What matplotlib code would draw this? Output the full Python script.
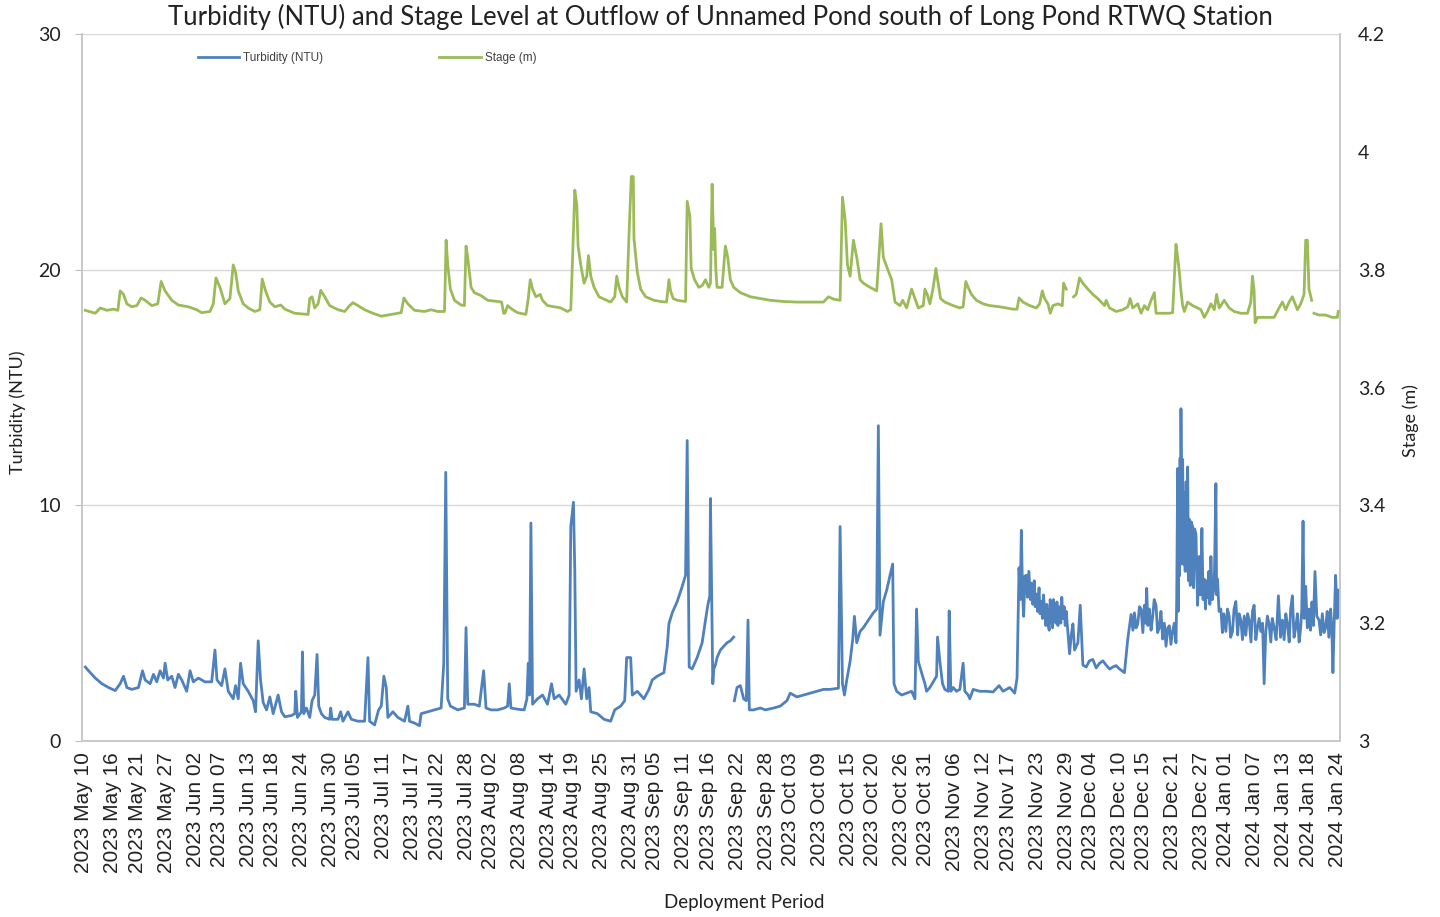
import numpy as np
import pandas as pd
import matplotlib
matplotlib.use("Agg")
import matplotlib.pyplot as plt

nan = float("nan")
START = "2023-05-10"

# ---- Turbidity (NTU): days since 2023-05-10 ----
turb_day = [
    0.28, 0.96, 2.34, 3.71, 5.09, 6.46, 7.49, 8.18, 8.87, 9.90, 11.27, 12.10, 12.65, 13.68,
    14.37, 15.05, 15.74, 16.43, 16.77, 17.32, 18.15, 18.83, 19.52, 20.21, 21.24, 21.93,
    22.61, 23.65, 25.02, 26.40, 27.08, 27.50, 28.46, 29.14, 29.83, 30.86, 31.34, 31.89,
    32.37, 32.92, 33.95, 34.99, 35.47, 36.02, 36.50, 37.05, 37.74, 38.42, 39.11, 40.14,
    40.83, 41.51, 42.89, 43.58, 43.78, 44.13, 44.95, 45.16, 45.43, 45.98, 46.67, 47.15,
    47.70, 48.18, 48.53, 49.08, 49.76, 50.79, 51.00, 51.27, 52.51, 53.06, 53.54, 54.57,
    55.26, 56.64, 58.01, 58.70, 59.04, 60.07, 60.90, 61.45, 61.99, 62.48, 62.82, 63.85,
    64.88, 66.26, 66.95, 67.29, 68.32, 69.35, 69.69, 71.07, 72.44, 73.82, 74.37, 74.78,
    75.19, 75.74, 77.25, 78.63, 78.97, 79.32, 80.69, 81.72, 82.61, 83.10, 84.13, 85.50,
    86.88, 87.56, 87.91, 88.25, 89.63, 91.00, 91.55, 91.83, 92.10, 92.38, 92.72, 93.75,
    94.78, 95.81, 96.64, 97.19, 98.22, 99.59, 100.28, 100.62, 101.17, 101.45, 101.72,
    102.34, 102.82, 103.37, 103.92, 104.40, 104.75, 106.12, 107.50, 108.87, 109.70,
    110.93, 111.76, 112.17, 113.00, 113.34, 114.37, 115.74, 116.77, 117.46, 118.49,
    119.87, 120.56, 120.90, 121.59, 122.62, 123.65, 124.34, 124.68, 125.09, 125.71,
    126.74, 127.77, 128.46, 128.94, 129.35, 129.49, 129.97, 130.17, 130.51, 130.85,
    131.54, 132.23, 132.92, 133.60, 134.29, 134.36, 134.43, 134.98, 135.67, 136.35,
    136.90, 137.25, 137.52, 138.41, 139.79, 140.82, 142.54, 143.91, 145.29, 145.97,
    147.35, 148.72, 150.10, 151.47, 152.85, 154.22, 155.94, 156.28, 156.77, 157.18,
    157.66, 158.35, 158.90, 159.24, 159.72, 160.41, 161.10, 162.13, 163.16, 163.85,
    164.19, 164.53, 165.22, 165.91, 166.60, 167.15, 167.42, 167.97, 169.00, 170.03,
    171.06, 171.75, 172.09, 172.44, 173.12, 173.81, 174.15, 174.84, 175.53, 176.22,
    176.42, 176.90, 177.45, 177.93, 178.62, 178.83, 179.17, 179.65, 180.34, 181.03,
    181.71, 182.06, 182.75, 183.09, 183.78, 185.15, 186.53, 187.90, 189.14, 189.96,
    191.34, 192.37, 192.85, 193.26, 193.50, 193.74, 194.00, 194.22, 194.50, 194.77,
    195.00, 195.30, 195.60, 195.80, 196.10, 196.40, 196.60, 196.84, 197.10, 197.40,
    197.60, 197.87, 198.10, 198.30, 198.55, 198.80, 199.00, 199.24, 199.50, 199.70,
    199.93, 200.20, 200.40, 200.61, 200.90, 201.10, 201.30, 201.60, 201.90, 202.10,
    202.33, 202.60, 202.80, 203.02, 203.40, 203.71, 204.05, 204.40, 204.74, 205.43,
    205.91, 206.46, 207.15, 207.80, 208.52, 209.20, 209.90, 210.60, 211.27, 212.00,
    212.65, 213.30, 214.02, 215.05, 215.74, 216.42, 216.80, 217.11, 217.45, 217.80,
    218.15, 218.49, 218.85, 219.17, 219.40, 219.65, 219.90, 220.20, 220.55, 220.89,
    221.20, 221.58, 221.90, 222.26, 222.60, 222.95, 223.30, 223.64, 224.00, 224.33,
    224.65, 225.01, 225.35, 225.70, 225.85, 226.05, 226.15, 226.25, 226.39, 226.55,
    226.65, 226.73, 226.90, 227.08, 227.25, 227.42, 227.60, 227.80, 228.00, 228.11,
    228.30, 228.45, 228.65, 228.85, 229.14, 229.35, 229.55, 229.83, 230.17, 230.51,
    230.75, 231.06, 231.30, 231.54, 231.80, 232.00, 232.23, 232.50, 232.70, 232.92,
    233.20, 233.61, 233.95, 234.10, 234.29, 234.60, 234.98, 235.30, 235.60, 236.01,
    236.35, 236.70, 237.00, 237.39, 237.70, 238.07, 238.45, 238.75, 239.10, 239.45,
    239.80, 240.14, 240.50, 240.82, 241.20, 241.50, 241.85, 242.20, 242.54, 242.90,
    243.23, 243.60, 243.92, 244.26, 244.60, 244.95, 245.30, 245.60, 245.98, 246.40,
    246.87, 247.30, 247.70, 248.05, 248.40, 248.73, 249.10, 249.40, 249.76, 250.10,
    250.45, 250.80, 251.15, 251.48, 251.70, 251.96, 252.20, 252.51, 252.85, 253.19,
    253.50, 253.80, 254.10, 254.43, 254.80, 255.26, 255.60, 255.95, 256.30, 256.63,
    256.95, 257.30, 257.66, 257.90, 258.14, 258.40, 258.69, 259.00, 259.24,
]
turb_val = [
    3.14, 2.98, 2.67, 2.43, 2.27, 2.14, 2.43, 2.75, 2.27, 2.19, 2.27, 2.98, 2.59, 2.43,
    2.83, 2.51, 2.98, 2.67, 3.30, 2.59, 2.75, 2.27, 2.83, 2.59, 2.11, 2.98,
    2.51, 2.67, 2.51, 2.51, 3.86, 2.59, 2.35, 3.06, 2.11, 1.79, 2.35, 1.79,
    3.30, 2.43, 2.11, 1.71, 1.24, 4.25, 2.59, 1.63, 1.32, 1.87, 1.16, 1.95,
    1.24, 1.03, 1.08, 1.16, 2.11, 1.00, 1.24, 3.78, 1.16, 1.40, 1.00, 1.71,
    1.95, 3.67, 1.48, 1.16, 1.00, 0.92, 1.40, 0.92, 0.92, 1.24, 0.84, 1.24,
    0.92, 0.84, 0.84, 3.54, 0.84, 0.68, 1.32, 1.48, 2.75, 2.27, 1.00, 1.24,
    1.00, 0.84, 1.48, 0.84, 0.76, 0.65, 1.16, 1.24, 1.32, 1.40, 3.30, 11.40,
    1.79, 1.48, 1.32, 1.40, 4.81, 1.56, 1.56, 1.48, 2.98, 1.40, 1.32, 1.32,
    1.40, 1.48, 2.43, 1.40, 1.35, 1.32, 1.79, 3.30, 1.95, 9.25, 1.56, 1.79,
    1.95, 1.56, 2.43, 1.79, 1.95, 1.56, 1.95, 9.10, 10.13, 7.19, 2.11,
    2.59, 1.79, 3.06, 1.79, 2.27, 1.24, 1.16, 0.92, 0.84, 1.32,
    1.48, 1.71, 3.54, 3.54, 1.95, 2.11, 1.79, 2.19, 2.59, 2.75,
    2.90, 4.02, 4.97, 5.44, 5.92, 6.56, 7.03, 12.75, 3.14, 3.06,
    3.54, 4.17, 5.13, 5.76, 6.16, 10.29, 2.43, 3.06, 3.22, 3.54,
    3.86, 4.02, 4.17, 4.25, 4.41, nan, 1.71, 2.27, 2.35, 1.79,
    1.71, 5.13, 1.32, 1.32, 1.40, 1.32, 1.40, 1.48, 1.71, 2.03,
    1.87, 1.95, 2.03, 2.11, 2.19, 2.19, 2.24, 9.10, 2.43, 1.95,
    2.59, 3.38, 4.33, 5.29, 4.17, 4.65, 4.81, 5.13, 5.44, 5.60,
    13.38, 4.49, 5.92, 6.40, 7.03, 7.51, 2.43, 2.11, 1.95, 2.03,
    2.11, 1.79, 5.60, 3.38, 2.90, 2.43, 2.11, 2.27, 2.51, 2.75,
    4.41, 3.38, 2.43, 2.19, 2.11, 5.52, 2.11, 2.27, 2.11, 2.19,
    3.30, 2.11, 1.95, 1.79, 2.19, 2.11, 2.11, 2.08, 2.35, 2.11,
    2.27, 2.03, 2.67, 7.35, 6.00, 8.94, 6.20, 5.29, 7.00, 7.03,
    6.10, 7.20, 6.00, 6.70, 5.80, 6.80, 5.70, 6.24, 5.50, 6.50,
    5.40, 5.92, 5.20, 6.20, 5.60, 4.90, 5.80, 4.97, 4.70, 6.00,
    5.50, 4.80, 6.00, 5.40, 5.00, 5.90, 4.90, 5.70, 5.00, 6.10,
    5.20, 5.70, 4.90, 5.50, 4.50, 3.70, 4.50, 4.97, 3.86, 4.17,
    5.76, 3.22, 3.14, 3.40, 3.46, 3.10, 3.30, 3.40, 3.22, 3.05,
    3.14, 3.20, 3.06, 2.90, 4.33, 5.37, 4.70, 5.44, 4.80, 4.97,
    5.70, 5.60, 4.60, 5.76, 5.00, 6.48, 4.90, 5.60, 4.70, 5.29,
    6.00, 5.76, 4.60, 4.81, 5.50, 4.33, 5.00, 4.02, 4.80, 4.89,
    4.10, 4.65, 5.00, 4.17, 6.00, 11.56, 5.50, 10.84, 7.00, 12.00,
    7.50, 14.10, 8.50, 11.95, 7.50, 10.52, 7.20, 11.00, 7.20, 11.63,
    6.80, 9.41, 6.60, 9.30, 9.10, 6.50, 9.00, 8.78, 5.76, 7.83,
    6.20, 9.02, 6.00, 6.87, 5.60, 6.80, 6.08, 7.20, 5.80, 7.83,
    6.00, 6.56, 10.92, 6.20, 6.87, 5.50, 5.60, 4.60, 5.40, 4.65,
    5.60, 5.29, 4.40, 4.65, 5.60, 5.92, 4.50, 5.40, 5.13, 4.30,
    5.30, 4.49, 5.40, 5.13, 4.20, 5.50, 5.76, 4.30, 4.81, 5.20,
    4.65, 5.00, 2.43, 4.65, 5.30, 4.97, 4.20, 5.20, 4.81, 4.30,
    6.16, 4.40, 5.13, 4.30, 5.40, 4.97, 4.20, 5.60, 6.16, 4.40,
    4.81, 5.40, 4.20, 4.81, 5.60, 9.33, 5.20, 6.56, 4.80, 5.60,
    4.70, 5.90, 4.90, 7.19, 5.30, 5.13, 4.50, 5.40, 4.60, 4.81,
    5.50, 4.40, 5.60, 4.80, 2.90, 5.00, 7.03, 5.20, 6.40,
]

# ---- Stage (m) ----
stage_day = [
    0.28, 2.34, 3.37, 4.74, 6.12, 7.01, 7.49, 8.18, 8.87, 9.90, 10.93, 11.82, 12.65, 14.02,
    15.26, 15.95, 16.77, 18.15, 19.52, 21.58, 23.30, 24.33, 26.05, 26.74, 27.29, 28.11,
    29.14, 30.17, 30.86, 31.34, 31.89, 32.92, 33.95, 35.33, 36.36, 36.84, 37.53, 38.42,
    39.45, 40.69, 41.51, 43.57, 46.33, 46.67, 47.15, 47.70, 48.39, 48.94, 49.76, 50.79,
    52.51, 53.89, 54.92, 55.60, 56.64, 58.01, 59.72, 61.45, 63.51, 65.57, 66.12, 66.95,
    68.32, 70.38, 71.76, 73.13, 74.51, 74.64, 74.85, 75.19, 75.74, 76.57, 77.94, 78.63,
    78.97, 79.32, 80.01, 80.69, 82.07, 83.44, 85.50, 86.33, 86.74, 87.01, 87.56, 88.60,
    89.63, 91.34, 91.83, 92.24, 92.72, 93.41, 94.30, 94.78, 95.81, 97.19, 98.56, 99.93,
    100.62, 100.97, 101.45, 101.86, 102.13, 102.68, 103.37, 103.92, 104.27, 104.75,
    105.43, 106.46, 107.50, 108.87, 109.70, 110.11, 110.59, 111.28, 112.17, 112.65,
    113.13, 113.54, 113.68, 114.37, 115.06, 116.09, 117.81, 119.18, 120.42, 120.90,
    121.24, 121.79, 122.62, 124.34, 124.68, 125.23, 125.50, 126.19, 127.08, 127.77,
    128.46, 129.14, 129.49, 129.83, 130.17, 130.35, 130.60, 130.85, 131.89, 132.57,
    133.06, 133.60, 134.29, 135.67, 137.73, 139.79, 141.85, 144.60, 147.35, 150.10,
    152.85, 153.88, 154.91, 156.28, 156.77, 157.32, 157.80, 158.35, 159.03, 159.72,
    160.41, 161.10, 162.47, 163.85, 164.39, 164.74, 165.22, 165.91, 166.94, 167.63,
    168.66, 169.21, 170.03, 171.06, 171.75, 172.44, 173.47, 173.81, 174.29, 174.84,
    175.53, 176.08, 176.56, 177.04, 177.93, 179.65, 181.03, 181.71, 182.26, 182.75,
    183.43, 184.46, 185.84, 187.21, 189.28, 190.65, 192.02, 192.85, 193.26, 194.09,
    195.46, 196.84, 197.52, 198.07, 198.55, 199.24, 199.72, 200.27, 201.30, 202.20,
    202.47, 203.02, 203.70, 204.53, 205.08, 205.77, 206.46, 207.49, 208.52, 209.55,
    210.24, 210.93, 211.27, 211.96, 213.33, 214.70, 215.74, 216.22, 216.77, 217.80,
    218.49, 219.17, 219.86, 220.55, 221.23, 221.58, 222.95, 224.33, 225.01, 225.70,
    226.05, 226.39, 226.73, 227.08, 227.42, 228.11, 229.14, 230.17, 230.86, 231.54,
    232.23, 232.92, 233.61, 234.09, 234.64, 235.67, 236.70, 237.73, 239.10, 240.48,
    241.17, 241.51, 241.85, 242.06, 242.54, 243.57, 244.95, 245.98, 247.01, 247.70,
    248.38, 249.07, 249.76, 250.79, 251.48, 252.17, 252.51, 252.86, 253.19, 253.74,
    254.00, 254.22, 255.26, 256.63, 258.01, 259.04, 259.24,
]
stage_val = [
    3.731, 3.726, 3.735, 3.731, 3.733, 3.731, 3.764, 3.758, 3.742, 3.737, 3.739, 3.752, 3.748, 3.739,
    3.742, 3.780, 3.764, 3.748, 3.740, 3.737, 3.732, 3.727, 3.729, 3.742, 3.786, 3.770,
    3.742, 3.751, 3.808, 3.796, 3.764, 3.742, 3.735, 3.729, 3.732, 3.784, 3.764, 3.745,
    3.737, 3.740, 3.733, 3.726, 3.724, 3.751, 3.754, 3.735, 3.742, 3.765, 3.754, 3.739,
    3.732, 3.729, 3.739, 3.744, 3.739, 3.732, 3.726, 3.721, 3.724, 3.727, 3.752, 3.742,
    3.731, 3.729, 3.732, 3.729, 3.729, 3.770, 3.850, 3.808, 3.767, 3.748, 3.740, 3.739,
    3.840, 3.821, 3.770, 3.761, 3.756, 3.748, 3.746, 3.745, 3.726, 3.726, 3.739, 3.732,
    3.727, 3.724, 3.751, 3.783, 3.767, 3.754, 3.758, 3.748, 3.739, 3.737, 3.735, 3.729,
    3.732, 3.815, 3.935, 3.910, 3.840, 3.808, 3.777, 3.789, 3.824, 3.789,
    3.770, 3.754, 3.750, 3.745, 3.754, 3.789, 3.770, 3.754, 3.745, 3.859,
    3.958, 3.958, 3.853, 3.796, 3.767, 3.754, 3.748, 3.746, 3.745, 3.783,
    3.764, 3.751, 3.748, 3.746, 3.916, 3.891, 3.802, 3.783, 3.770, 3.773,
    3.783, 3.770, 3.777, 3.945, 3.834, 3.870, 3.800, 3.770, 3.770, 3.840,
    3.821, 3.783, 3.770, 3.761, 3.754, 3.751, 3.748, 3.746, 3.745, 3.745,
    3.745, 3.754, 3.750, 3.748, 3.923, 3.885, 3.808, 3.789, 3.850, 3.821,
    3.783, 3.777, 3.770, 3.764, 3.834, 3.878, 3.821, 3.805, 3.783, 3.745,
    3.739, 3.748, 3.735, 3.767, 3.751, 3.735, 3.739, 3.767, 3.758, 3.742,
    3.770, 3.802, 3.777, 3.751, 3.745, 3.739, 3.735, 3.737, 3.780, 3.770,
    3.758, 3.748, 3.742, 3.739, 3.737, 3.735, 3.733, 3.733, 3.752, 3.745,
    3.739, 3.735, 3.742, 3.764, 3.751, 3.742, 3.726, 3.739, 3.742, 3.739,
    3.777, 3.767, nan, 3.754, 3.758, 3.786, 3.777, 3.767, 3.758, 3.751,
    3.745, 3.739, 3.748, 3.735, 3.729, 3.732, 3.737, 3.751, 3.735, 3.742,
    3.726, 3.739, 3.732, 3.748, 3.761, 3.726, 3.726, 3.726, 3.727, 3.843,
    3.821, 3.796, 3.764, 3.739, 3.729, 3.745, 3.739, 3.735, 3.732, 3.719,
    3.729, 3.742, 3.732, 3.758, 3.735, 3.748, 3.735, 3.729, 3.726, 3.726,
    3.745, 3.789, 3.764, 3.710, 3.719, 3.719, 3.719, 3.719, 3.735, 3.745,
    3.732, 3.745, 3.754, 3.732, 3.742, 3.758, 3.850, 3.850, 3.767, 3.748,
    nan, 3.726, 3.723, 3.723, 3.719, 3.719, 3.729,
]

tick_labels = [
    "2023 May 10", "2023 May 16", "2023 May 21", "2023 May 27", "2023 Jun 02", "2023 Jun 07",
    "2023 Jun 13", "2023 Jun 18", "2023 Jun 24", "2023 Jun 30", "2023 Jul 05", "2023 Jul 11",
    "2023 Jul 17", "2023 Jul 22", "2023 Jul 28", "2023 Aug 02", "2023 Aug 08", "2023 Aug 14",
    "2023 Aug 19", "2023 Aug 25", "2023 Aug 31", "2023 Sep 05", "2023 Sep 11", "2023 Sep 16",
    "2023 Sep 22", "2023 Sep 28", "2023 Oct 03", "2023 Oct 09", "2023 Oct 15", "2023 Oct 20",
    "2023 Oct 26", "2023 Oct 31", "2023 Nov 06", "2023 Nov 12", "2023 Nov 17", "2023 Nov 23",
    "2023 Nov 29", "2023 Dec 04", "2023 Dec 10", "2023 Dec 15", "2023 Dec 21", "2023 Dec 27",
    "2024 Jan 01", "2024 Jan 07", "2024 Jan 13", "2024 Jan 18", "2024 Jan 24",
]

turb_ticks = [0, 10, 20, 30]
stage_ticks = [3, 3.2, 3.4, 3.6, 3.8, 4, 4.2]
stage_tick_text = ["3", "3.2", "3.4", "3.6", "3.8", "4", "4.2"]

# ---------------------------------------------------------------------------
BLUE = "#4f81bd"
GREEN = "#9bbb59"
GRID = "#d9d9d9"
TEXT = "#222222"
FONT = ["Lato", "DejaVu Sans"]
ARIAL = ["Liberation Sans", "DejaVu Sans"]

start = pd.Timestamp(START)
t_dates = start + pd.to_timedelta(turb_day, unit="D")
s_dates = start + pd.to_timedelta(stage_day, unit="D")
tick_dates = pd.to_datetime(tick_labels, format="%Y %b %d")

W, H = 1440, 917
fig = plt.figure(figsize=(W / 100, H / 100), dpi=100)
L, R, T, B = 82, 1340, 34, 741
ax = fig.add_axes([L / W, 1 - B / H, (R - L) / W, (B - T) / H])
ax2 = ax.twinx()

ln1, = ax.plot(t_dates, turb_val, color=BLUE, lw=2.0, label="Turbidity (NTU)", zorder=3)
ln2, = ax2.plot(s_dates, stage_val, color=GREEN, lw=2.0, label="Stage (m)", zorder=3)

ax.set_xlim(start - pd.Timedelta(days=0.4), start + pd.Timedelta(days=259.6))
ax.set_ylim(0, 30)
ax2.set_ylim(3, 4.2)

ax.set_yticks(turb_ticks)
ax.set_yticklabels([str(v) for v in turb_ticks], fontfamily=FONT, fontsize=14, color=TEXT)
ax2.set_yticks(stage_ticks)
ax2.set_yticklabels(stage_tick_text, fontfamily=FONT, fontsize=14, color=TEXT)

ax.set_xticks(tick_dates)
ax.set_xticklabels(tick_labels, rotation=90, fontfamily=ARIAL, fontsize=15, color=TEXT)

ax.grid(axis="y", color=GRID, lw=1.0, zorder=0)
ax.set_axisbelow(True)
ax.tick_params(axis="y", length=5, color="#bfbfbf", pad=10)
ax.tick_params(axis="x", length=0, pad=8)
ax2.tick_params(axis="y", length=0, pad=13)

for a in (ax, ax2):
    a.spines["top"].set_visible(False)
    for s in ("left", "right", "bottom"):
        a.spines[s].set_color("#c8c8c8")
        a.spines[s].set_linewidth(1.2)

ax.set_ylabel("Turbidity (NTU)", fontfamily=FONT, fontsize=13, color=TEXT)
ax.yaxis.set_label_coords((26 - L) / (R - L), (B - 412) / (B - T))
ax2.set_ylabel("Stage (m)", fontfamily=FONT, fontsize=13, color=TEXT)
ax2.yaxis.set_label_coords((1402 - L) / (R - L), (B - 421) / (B - T))
ax.set_xlabel("Deployment Period", fontfamily=FONT, fontsize=13.5, color=TEXT)
ax.xaxis.set_label_coords((744 - L) / (R - L), (B - 894) / (B - T))
fig.text(0.5, 1 - 17 / H, "Turbidity (NTU) and Stage Level at Outflow of Unnamed Pond south of Long Pond RTWQ Station",
         ha="center", va="center", fontfamily=FONT, fontsize=18.5, color=TEXT)

leg = ax2.legend([ln1, ln2], ["Turbidity (NTU)", "Stage (m)"], loc="center left",
                 bbox_to_anchor=((198 - L) / (R - L), (B - 58) / (B - T)), ncol=2, frameon=False,
                 prop={"family": ARIAL, "size": 8.5}, handlelength=3.5, columnspacing=9.8,
                 handletextpad=0.35, borderaxespad=0, borderpad=0)
for t in leg.get_texts():
    t.set_color("#404040")

fig.savefig("out.png", dpi=100, facecolor="white")
